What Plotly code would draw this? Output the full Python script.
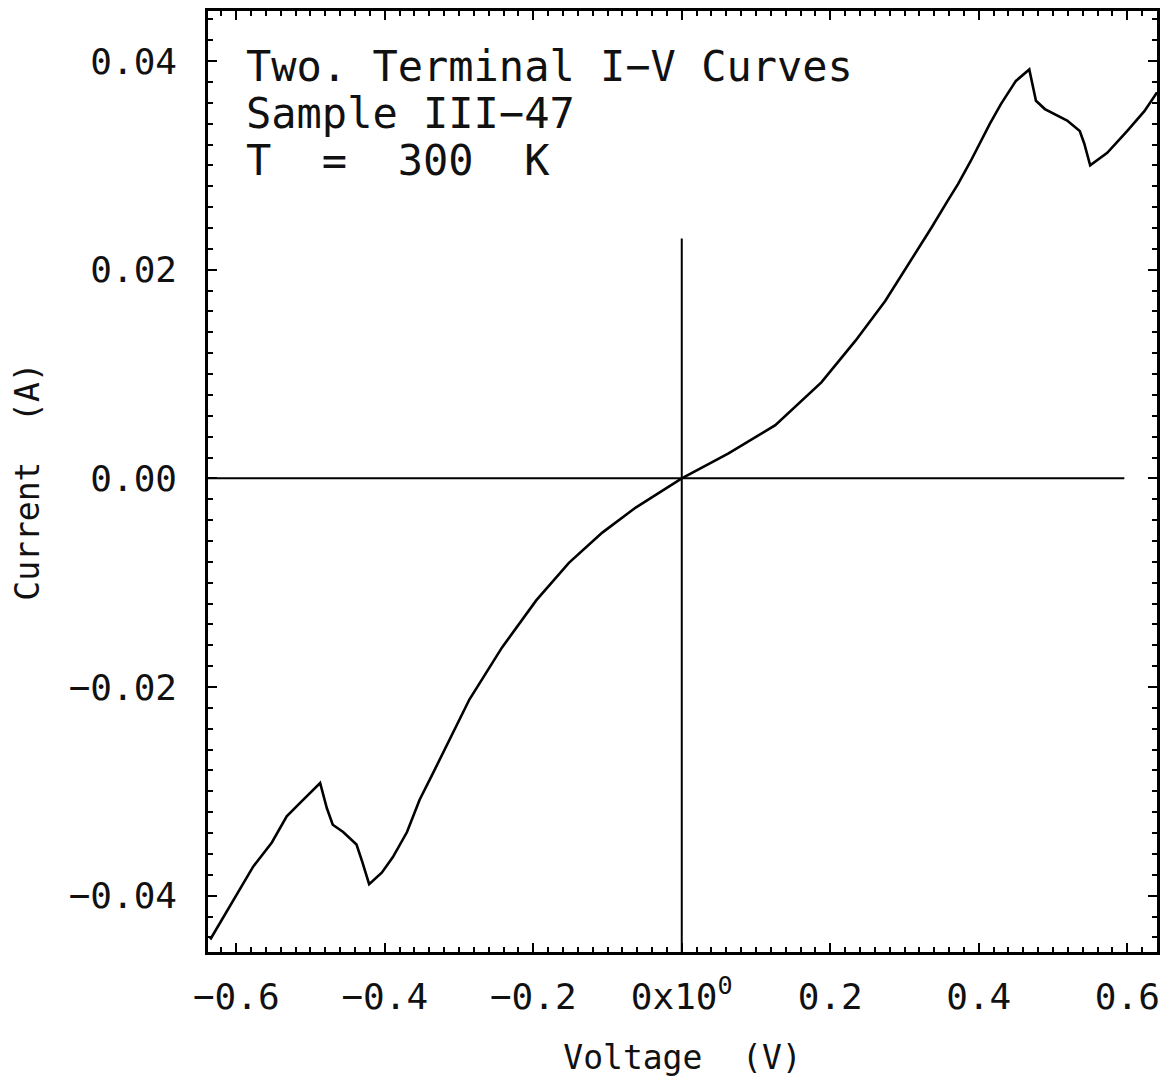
import plotly.graph_objects as go

# I-V curve data (Voltage in V, Current in A)
voltage = [-0.635, -0.604, -0.577, -0.552, -0.532, -0.514, -0.487, -0.478, -0.470, -0.456,
           -0.438, -0.430, -0.421, -0.404, -0.389, -0.370, -0.353, -0.336, -0.322, -0.286,
           -0.242, -0.196, -0.152, -0.107, -0.062, -0.031, 0.0, 0.063, 0.126, 0.188,
           0.234, 0.274, 0.309, 0.336, 0.358, 0.372, 0.389, 0.415, 0.430, 0.450,
           0.468, 0.477, 0.489, 0.519, 0.536, 0.542, 0.550, 0.573, 0.600, 0.623, 0.640]
current = [-0.0442, -0.0404, -0.0372, -0.0349, -0.0324, -0.0311, -0.0292, -0.0316, -0.0332, -0.0339,
           -0.0351, -0.0368, -0.0389, -0.0378, -0.0363, -0.0339, -0.0308, -0.0284, -0.0264, -0.0212,
           -0.0162, -0.0117, -0.0081, -0.0052, -0.0028, -0.0014, 0.0, 0.0024, 0.0051, 0.0092,
           0.0132, 0.0170, 0.0209, 0.0240, 0.0266, 0.0282, 0.0304, 0.0340, 0.0359, 0.0381,
           0.0392, 0.0362, 0.0354, 0.0343, 0.0333, 0.0321, 0.0300, 0.0312, 0.0333, 0.0352, 0.0370]

# Reference cross-hair lines
hline_v = [-0.64, 0.596]
hline_i = [0.0, 0.0]
vline_v = [0.0, 0.0]
vline_i = [-0.046, 0.023]

x_tickvals = [-0.6, -0.4, -0.2, 0.0, 0.2, 0.4, 0.6]
x_ticktext = ["\u22120.6", "\u22120.4", "\u22120.2", "0x10<sup>0</sup>", "0.2", "0.4", "0.6"]
y_tickvals = [-0.04, -0.02, 0.0, 0.02, 0.04]
y_ticktext = ["\u22120.04", "\u22120.02", "0.00", "0.02", "0.04"]

label_lines = ["Two. Terminal I\u2212V Curves", "Sample III\u221247", "T  =  300  K"]
label_ypos = [0.9405, 0.8906, 0.8407]

FONT = "DejaVu Sans Mono"

fig = go.Figure()
fig.add_trace(go.Scatter(x=hline_v, y=hline_i, mode="lines",
                         line=dict(color="black", width=2), showlegend=False))
fig.add_trace(go.Scatter(x=vline_v, y=vline_i, mode="lines",
                         line=dict(color="black", width=2), showlegend=False))
fig.add_trace(go.Scatter(x=voltage, y=current, mode="lines",
                         line=dict(color="black", width=2.6), showlegend=False))

for txt, yp in zip(label_lines, label_ypos):
    fig.add_annotation(
        x=0, y=yp, xref="paper", yref="paper", xanchor="left", yanchor="middle",
        xshift=36, align="left", showarrow=False, text=txt,
        font=dict(family=FONT, size=42, color="#111"),
    )

axis_common = dict(
    showline=True, linecolor="black", linewidth=2.5, mirror="ticks",
    ticks="inside", ticklen=9, tickwidth=2, tickcolor="black",
    showgrid=False, zeroline=False,
    tickfont=dict(family=FONT, size=36, color="#111"),
)

fig.update_xaxes(
    range=[-0.638, 0.640], tickmode="array", tickvals=x_tickvals, ticktext=x_ticktext,
    minor=dict(dtick=0.02, tick0=0, ticks="inside", ticklen=5, tickwidth=1.5, tickcolor="black"),
    title=dict(text="Voltage  (V)", font=dict(family=FONT, size=33, color="#111"), standoff=30),
    ticklabelstandoff=11,
    **axis_common,
)
fig.update_yaxes(
    range=[-0.0454, 0.0448], tickmode="array", tickvals=y_tickvals, ticktext=y_ticktext,
    minor=dict(dtick=0.002, tick0=0, ticks="inside", ticklen=5, tickwidth=1.5, tickcolor="black"),
    title=dict(text="Current  (A)", font=dict(family=FONT, size=33, color="#111"), standoff=30),
    ticklabelstandoff=21,
    **axis_common,
)

fig.update_layout(
    width=1152, height=1073,
    margin=dict(l=200, r=0, t=2, b=129),
    paper_bgcolor="white", plot_bgcolor="white",
    showlegend=False,
)

fig.write_html("out.html")
